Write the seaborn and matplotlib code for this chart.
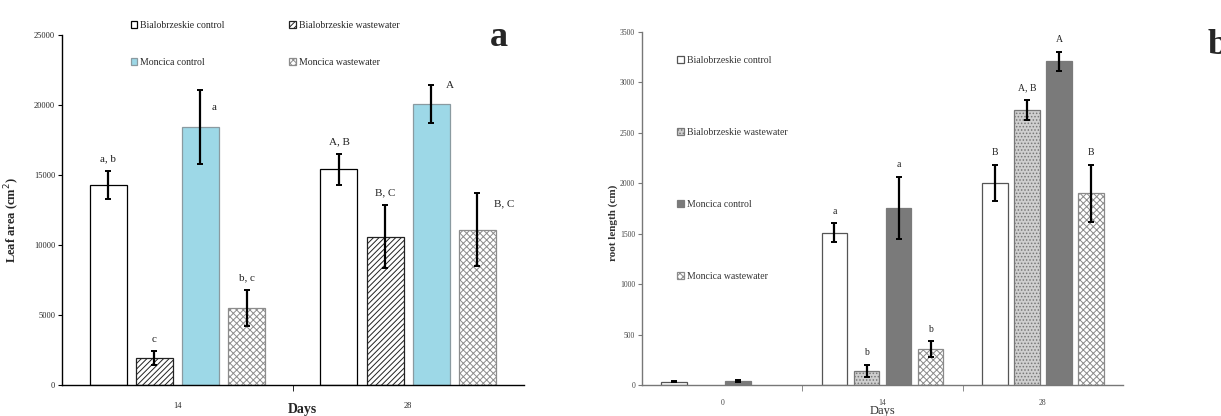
import numpy as np
import pandas as pd
import matplotlib
matplotlib.use("Agg")
import matplotlib.pyplot as plt
from matplotlib.container import BarContainer
import seaborn as sns

# ---------------- data ----------------
series = ["Bialobrzeskie control", "Bialobrzeskie wastewater",
          "Moncica control", "Moncica wastewater"]

days_a = ["14", "28"]
leaf_bc = [14300, 15400]
leaf_bw = [1900, 10600]
leaf_mc = [18450, 20050]
leaf_mw = [5500, 11100]
leaf_bc_err = [1000, 1100]
leaf_bw_err = [500, 2250]
leaf_mc_err = [2650, 1350]
leaf_mw_err = [1300, 2600]
let_a_bc = ["a, b", "A, B"]
let_a_bw = ["c", "B, C"]
let_a_mc = ["a", "A"]
let_a_mw = ["b, c", "B, C"]

days_b = ["0", "14", "28"]
root_bc = [33, 1508, 2005]
root_bw = [np.nan, 142, 2730]
root_mc = [40, 1755, 3210]
root_mw = [np.nan, 356, 1900]
root_bc_err = [8, 95, 180]
root_bw_err = [np.nan, 60, 100]
root_mc_err = [8, 310, 95]
root_mw_err = [np.nan, 80, 285]
let_b_bc = ["", "a", "B"]
let_b_bw = ["", "b", "A, B"]
let_b_mc = ["", "a", "A"]
let_b_mw = ["", "b", "B"]

# ---------------- style ----------------
sns.set_style("ticks")
plt.rcParams["font.family"] = ["Liberation Serif", "DejaVu Serif"]
plt.rcParams["hatch.linewidth"] = 0.7


def long_df(days, vals, errs, lets):
    rows = []
    for s, v, e, l in zip(series, vals, errs, lets):
        for d, vv, ee, ll in zip(days, v, e, l):
            if not np.isnan(vv):
                rows.append(dict(day=d, series=s, value=vv, err=ee, letter=ll))
    return pd.DataFrame(rows)


df_a = long_df(days_a, [leaf_bc, leaf_bw, leaf_mc, leaf_mw],
               [leaf_bc_err, leaf_bw_err, leaf_mc_err, leaf_mw_err],
               [let_a_bc, let_a_bw, let_a_mc, let_a_mw])
df_b = long_df(days_b, [root_bc, root_bw, root_mc, root_mw],
               [root_bc_err, root_bw_err, root_mc_err, root_mw_err],
               [let_b_bc, let_b_bw, let_b_mc, let_b_mw])

fig = plt.figure(figsize=(12.21, 4.16), dpi=100)
ax_a = fig.add_axes([0.0508, 0.0745, 0.378, 0.8413])
ax_b = fig.add_axes([0.5258, 0.0745, 0.394, 0.8486])

# styles per series: (facecolor, edgecolor, hatch)
style_a = [("white", "black", ""), ("white", "#222222", "//////"),
           ("#9dd8e7", "#8a9aa0", ""), ("white", "#8c8c8c", "xxxxx")]
style_b = [("white", "#555555", ""), ("#cfcfcf", "#777777", "....."),
           ("#7a7a7a", "#7a7a7a", ""), ("white", "#8a8a8a", "xxxxx")]

# label offsets (pixels) for panel a: (series index, day index) -> (dx, dy)
offs_a = {(2, 0): (11, -18), (2, 1): (15, 0), (3, 1): (17, -11)}


def draw(ax, df, days, styles, ymax, ystep, tick_col, lab_size, offs, xpad):
    sns.barplot(data=df, x="day", y="value", hue="series", order=days,
                hue_order=series, errorbar=None, width=0.8, gap=0.2,
                linewidth=1, legend=False, ax=ax)
    bars = [c for c in ax.containers if isinstance(c, BarContainer)]
    for i, cont in enumerate(bars):
        fc, ec, h = styles[i]
        sub = df[df.series == series[i]]
        for p in cont.patches:
            p.set_facecolor(fc)
            p.set_edgecolor(ec)
            p.set_hatch(h)
            p.set_linewidth(0.9)
            xc = p.get_x() + p.get_width() / 2
            k = int(round(xc))
            row = sub[sub.day == days[k]].iloc[0]
            top = row.value + row.err
            ax.errorbar(xc, row.value, yerr=row.err, fmt="none", ecolor="black",
                        elinewidth=1.6, capsize=2.5, capthick=1.4, zorder=5)
            if row.letter:
                dx, dy = offs.get((i, k), (0, 12))
                ha = "left" if (i, k) in offs else "center"
                ax.annotate(row.letter, (xc, top), xytext=(dx, dy),
                            textcoords="offset pixels", ha=ha, va="center",
                            fontsize=lab_size, color="#222222")
    ax.set_ylim(0, ymax)
    ax.set_xlim(-0.5, len(days) - 0.5)
    ax.set_yticks(np.arange(0, ymax + 1, ystep))
    ax.set_xticks(range(len(days)))
    ax.set_xticklabels(days)
    ax.set_xticks(np.arange(0.5, len(days) - 0.5, 1), minor=True)
    ax.tick_params(axis="x", which="major", length=0, pad=xpad)
    ax.tick_params(axis="x", which="minor", length=4, color=tick_col)
    ax.tick_params(axis="y", length=3, color=tick_col, pad=2)
    sns.despine(ax=ax)
    for s in ("left", "bottom"):
        ax.spines[s].set_color(tick_col)
        ax.spines[s].set_linewidth(1.0)
    return bars


bars_a = draw(ax_a, df_a, days_a, style_a, 25000, 5000, "black", 8, offs_a, 12)
bars_b = draw(ax_b, df_b, days_b, style_b, 3500, 500, "#777777", 7, {}, 10)

for lab in ax_a.get_yticklabels() + ax_a.get_xticklabels():
    lab.set_fontsize(6)
for lab in ax_b.get_yticklabels() + ax_b.get_xticklabels():
    lab.set_fontsize(5.5)
    lab.set_color("#444444")

ax_a.set_xlabel("Days", fontsize=10, fontweight="bold")
ax_a.set_ylabel("Leaf area (cm$^2$)", fontsize=9, fontweight="bold")
ax_b.set_xlabel("Days", fontsize=9, color="#333333")
ax_b.set_ylabel("root length (cm)", fontsize=8, fontweight="bold",
                color="#333333")
ax_a.xaxis.set_label_coords(0.52, -0.05)
ax_b.xaxis.set_label_coords(0.5, -0.058)
ax_a.yaxis.set_label_coords(-0.087, 0.47)
ax_b.yaxis.set_label_coords(-0.05, 0.46)

# legends (row-wise order for the 2x2 layout of panel a)
handles_a = [c.patches[0] for c in bars_a]
order = [0, 2, 1, 3]
ax_a.legend([handles_a[j] for j in order], [series[j] for j in order],
            ncol=2, frameon=False, fontsize=7,
            loc="upper left", bbox_to_anchor=(0.14, 1.052),
            handlelength=0.7, handleheight=0.7, handletextpad=0.3,
            columnspacing=6.6, labelspacing=2.9, borderaxespad=0)
handles_b = [c.patches[0] for c in bars_b]
ax_b.legend(handles_b, series, ncol=1, frameon=False, fontsize=7,
            loc="upper left", bbox_to_anchor=(0.065, 0.943),
            handlelength=0.7, handleheight=0.7, handletextpad=0.3,
            labelspacing=6.48, borderaxespad=0, labelcolor="#333333")

fig.text(0.4015, 0.91, "a", fontsize=26, fontweight="bold", ha="left",
         va="center", family=["Liberation Serif"])
fig.text(0.989, 0.89, "b", fontsize=26, fontweight="bold", ha="left",
         va="center", family=["Liberation Serif"])

fig.savefig("out.png", dpi=100)
